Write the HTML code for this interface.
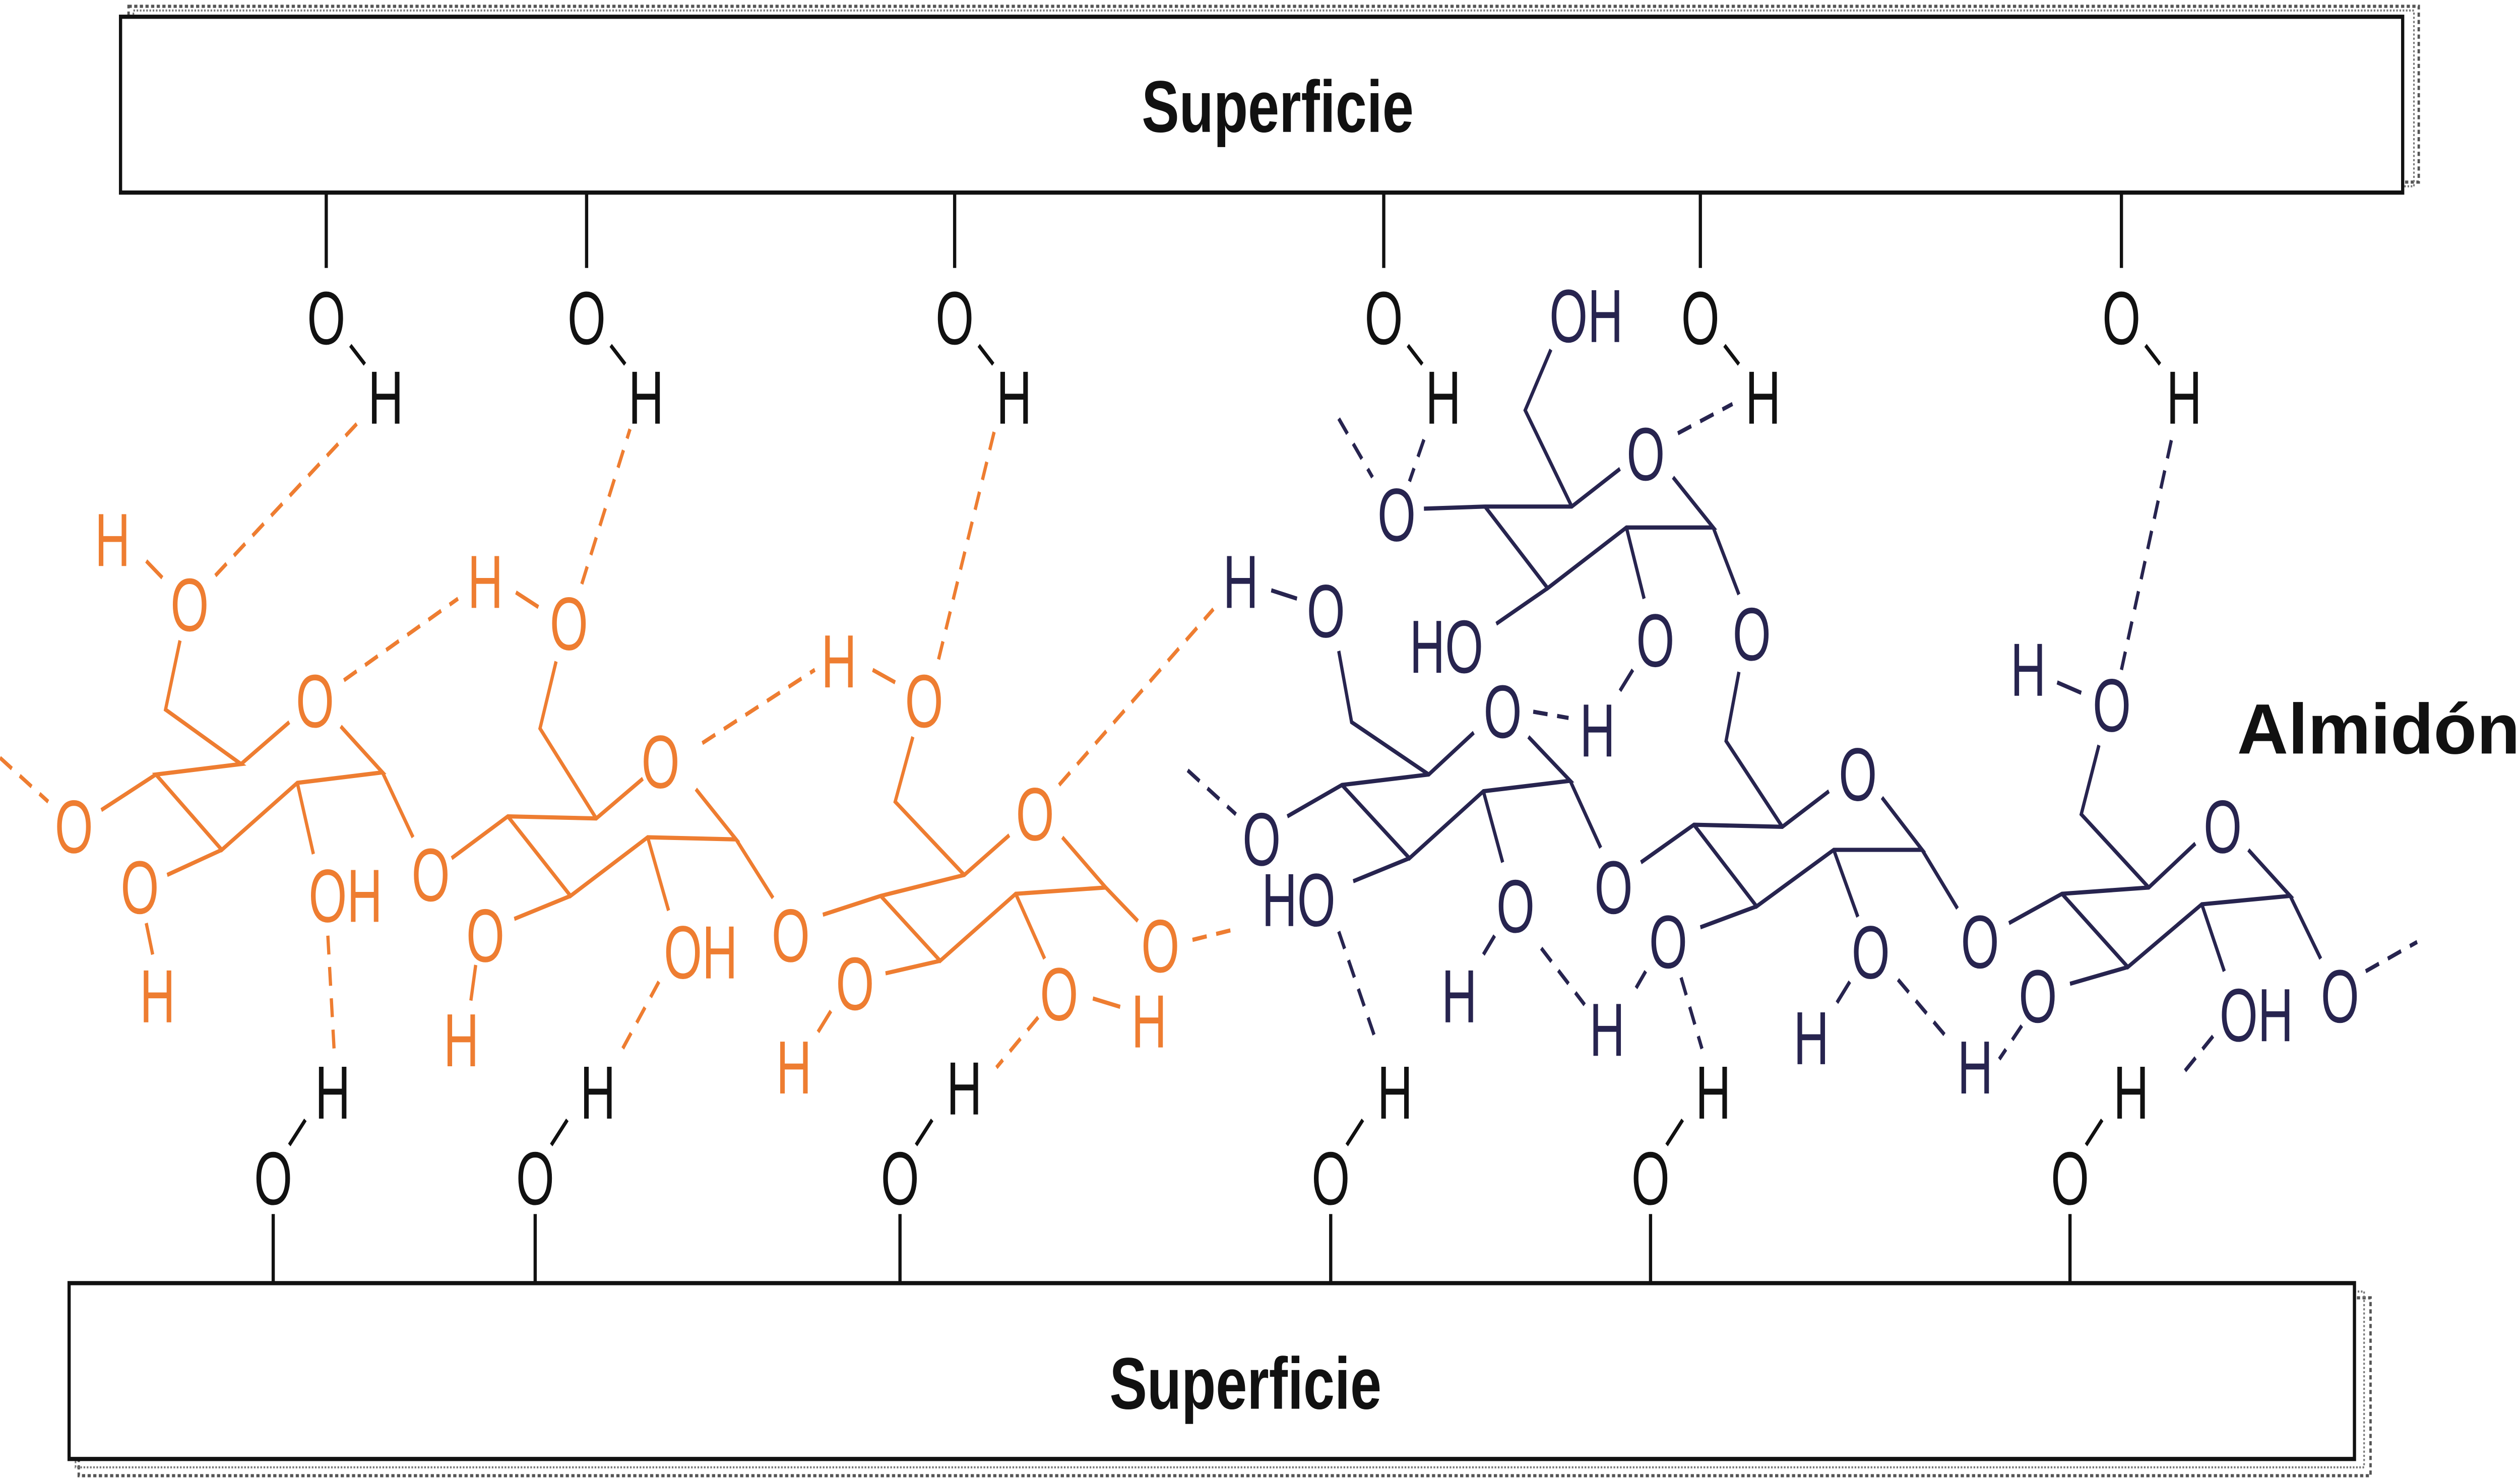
<!DOCTYPE html>
<html><head><meta charset="utf-8"><style>
html,body{margin:0;padding:0;background:#fff;width:100vw;height:100vh;overflow:hidden;}
svg{display:block;width:100vw;height:100vh;}
text{font-family:"Liberation Sans",sans-serif;}
.a{font-size:36px;text-anchor:middle;dominant-baseline:central;}
.or{fill:#ee7d31;} .nv{fill:#27244f;} .bk{fill:#111;}
</style></head><body>
<svg viewBox="0 0 1568 708" preserveAspectRatio="none" xmlns="http://www.w3.org/2000/svg">
<rect x="80" y="3" width="1425" height="84" fill="none" stroke="#555" stroke-width="1.5" stroke-dasharray="2 1.5"/>
<rect x="83" y="5" width="1419" height="84" fill="none" stroke="#777" stroke-width="1" stroke-dasharray="1 1"/>
<rect x="75" y="8" width="1420" height="84" fill="#fff" stroke="#111" stroke-width="2"/>
<rect x="49" y="620" width="1426" height="85" fill="none" stroke="#555" stroke-width="1.5" stroke-dasharray="2 1.5"/>
<rect x="47" y="617" width="1424" height="84" fill="none" stroke="#777" stroke-width="1" stroke-dasharray="1 1"/>
<rect x="43" y="613" width="1422" height="84" fill="#fff" stroke="#111" stroke-width="2"/>
<text x="795" y="63" font-size="35" font-weight="bold" text-anchor="middle" fill="#111">Superficie</text>
<text x="775" y="673" font-size="35" font-weight="bold" text-anchor="middle" fill="#111">Superficie</text>
<text x="1392" y="360" font-size="34" font-weight="bold" fill="#111" textLength="176" lengthAdjust="spacingAndGlyphs">Almidón</text>

<g stroke="#111" stroke-width="2" fill="none">
<path d="M203,92V128 M365,92V128 M594,92V128 M861,92V128 M1058,92V128 M1320,92V128"/>
<path d="M218,165L227,174 M380,165L389,174 M609,165L618,174 M876,165L885,174 M1073,165L1082,174 M1335,165L1344,174"/>
<path d="M170,580V613 M333,580V613 M560,580V613 M828,580V613 M1027,580V613 M1288,580V613"/>
<path d="M180,547L190,535 M343,547L353,535 M570,547L580,535 M838,547L848,535 M1037,547L1047,535 M1298,547L1308,535"/>
</g>
<g class="bk">
<text class="a" transform="translate(203 152) scale(.85 1)">O</text><text class="a" transform="translate(240 190) scale(.85 1)">H</text>
<text class="a" transform="translate(365 152) scale(.85 1)">O</text><text class="a" transform="translate(402 190) scale(.85 1)">H</text>
<text class="a" transform="translate(594 152) scale(.85 1)">O</text><text class="a" transform="translate(631 190) scale(.85 1)">H</text>
<text class="a" transform="translate(861 152) scale(.85 1)">O</text><text class="a" transform="translate(898 190) scale(.85 1)">H</text>
<text class="a" transform="translate(1058 152) scale(.85 1)">O</text><text class="a" transform="translate(1097 190) scale(.85 1)">H</text>
<text class="a" transform="translate(1320 152) scale(.85 1)">O</text><text class="a" transform="translate(1359 190) scale(.85 1)">H</text>
<text class="a" transform="translate(170 563) scale(.85 1)">O</text><text class="a" transform="translate(207 522) scale(.85 1)">H</text>
<text class="a" transform="translate(333 563) scale(.85 1)">O</text><text class="a" transform="translate(372 522) scale(.85 1)">H</text>
<text class="a" transform="translate(560 563) scale(.85 1)">O</text><text class="a" transform="translate(600 520) scale(.85 1)">H</text>
<text class="a" transform="translate(828 563) scale(.85 1)">O</text><text class="a" transform="translate(868 522) scale(.85 1)">H</text>
<text class="a" transform="translate(1027 563) scale(.85 1)">O</text><text class="a" transform="translate(1066 522) scale(.85 1)">H</text>
<text class="a" transform="translate(1288 563) scale(.85 1)">O</text><text class="a" transform="translate(1326 522) scale(.85 1)">H</text>
</g>

<g stroke="#ee7d31" stroke-width="2" fill="none">
<path d="M150,365L180,345 M212,347L238,369L185,374L138,406L97,370L150,365L103,339L112,306 M97,370L63,387 M138,406L104,418 M185,374L195,408 M238,369L257,400 M91,441L95,456 M91,268L101,276"/>
<path d="M281,410L316,390L371,391L400,372 M433,377L458,401L403,400L355,428L316,390 M371,391L336,348L346,316 M321,283L335,290 M355,428L320,439 M296,461L293,478 M403,400L416,435 M458,401L481,429"/>
<path d="M512,437L548,428L600,418L628,399 M661,400L688,424L632,427L585,459L548,428 M600,418L557,383L568,352 M543,320L557,326 M585,459L551,465 M517,483L509,493 M632,427L650,458 M680,477L697,481 M688,424L708,440"/>
</g>
<g stroke="#ee7d31" stroke-width="2" fill="none" stroke-dasharray="9 6">
<path d="M0,362L30,383 M742,449L768,444 M646,486L620,510 M410,469L386,503 M204,447L208,503 M134,275L225,200 M214,325L285,286 M362,279L392,205 M437,355L507,320 M584,315L619,205 M659,375L755,291"/>
</g>
<g class="or">
<text class="a" transform="translate(46 395) scale(.85 1)">O</text>
<text class="a" transform="translate(118 289) scale(.85 1)">O</text>
<text class="a" transform="translate(196 335) scale(.85 1)">O</text>
<text class="a" transform="translate(87 424) scale(.85 1)">O</text>
<text class="a" transform="translate(268 418) scale(.85 1)">O</text>
<text class="a" transform="translate(354 298) scale(.85 1)">O</text>
<text class="a" transform="translate(411 364) scale(.85 1)">O</text>
<text class="a" transform="translate(302 447) scale(.85 1)">O</text>
<text class="a" transform="translate(492 447) scale(.85 1)">O</text>
<text class="a" transform="translate(575 335) scale(.85 1)">O</text>
<text class="a" transform="translate(644 389) scale(.85 1)">O</text>
<text class="a" transform="translate(532 470) scale(.85 1)">O</text>
<text class="a" transform="translate(659 475) scale(.85 1)">O</text>
<text class="a" transform="translate(722 452) scale(.85 1)">O</text>
<text class="a" transform="translate(70 258) scale(.85 1)">H</text>
<text class="a" transform="translate(98 476) scale(.85 1)">H</text>
<text class="a" transform="translate(302 278) scale(.85 1)">H</text>
<text class="a" transform="translate(287 497) scale(.85 1)">H</text>
<text class="a" transform="translate(522 316) scale(.85 1)">H</text>
<text class="a" transform="translate(494 510) scale(.85 1)">H</text>
<text class="a" transform="translate(715 488) scale(.85 1)">H</text>
<text class="a" transform="translate(215 428) scale(.85 1)">OH</text>
<text class="a" transform="translate(436 455) scale(.85 1)">OH</text>
</g>

<g stroke="#27244f" stroke-width="2" fill="none">
<path d="M886,243L924,242L978,242L1008,224 M1041,228L1066,252L1012,252L963,281L924,242 M978,242L949,196L965,167 M963,281L931,298 M1012,252L1023,286 M1066,252L1082,284 M1082,321L1074,354L1109,395 M1016,320L1008,330"/>
<path d="M801,390L835,375L889,370L917,350 M951,352L977,373L923,378L877,410L835,375 M889,370L841,345L833,311 M791,282L807,286 M877,410L842,421 M923,378L935,412 M977,373L996,405 M930,447L923,456"/>
<path d="M1021,412L1054,394L1109,395L1138,378 M1171,381L1196,406L1141,406L1093,433L1054,394 M1093,433L1058,443 M1141,406L1156,438 M1196,406L1218,434 M1024,464L1018,472 M1151,469L1143,479"/>
<path d="M1250,441L1283,427L1337,424L1366,403 M1399,406L1425,428L1370,432L1324,462L1283,427 M1337,424L1295,389L1306,356 M1280,326L1295,331 M1324,462L1288,470 M1370,432L1384,464 M1425,428L1444,458"/>
</g>
<g stroke="#27244f" stroke-width="2" fill="none" stroke-dasharray="9 6">
<path d="M739,368L769,389 M1472,464L1504,450 M833,200L854,228 M886,210L877,230 M1044,207L1078,193 M954,340L976,343 M833,445L857,499 M959,453L986,480 M1046,467L1059,501 M1181,468L1214,498 M1320,320L1352,207 M1258,490L1244,506 M1377,495L1357,514"/>
</g>
<g class="nv">
<text class="a" transform="translate(869 246) scale(.85 1)">O</text>
<text class="a" transform="translate(1024 217) scale(.85 1)">O</text>
<text class="a" transform="translate(1030 306) scale(.85 1)">O</text>
<text class="a" transform="translate(1090 303) scale(.85 1)">O</text>
<text class="a" transform="translate(785 401) scale(.85 1)">O</text>
<text class="a" transform="translate(825 292) scale(.85 1)">O</text>
<text class="a" transform="translate(935 340) scale(.85 1)">O</text>
<text class="a" transform="translate(943 433) scale(.85 1)">O</text>
<text class="a" transform="translate(1004 424) scale(.85 1)">O</text>
<text class="a" transform="translate(1156 370) scale(.85 1)">O</text>
<text class="a" transform="translate(1038 450) scale(.85 1)">O</text>
<text class="a" transform="translate(1164 455) scale(.85 1)">O</text>
<text class="a" transform="translate(1232 450) scale(.85 1)">O</text>
<text class="a" transform="translate(1383 395) scale(.85 1)">O</text>
<text class="a" transform="translate(1268 476) scale(.85 1)">O</text>
<text class="a" transform="translate(1314 337) scale(.85 1)">O</text>
<text class="a" transform="translate(1456 476) scale(.85 1)">O</text>
<text class="a" transform="translate(987 151) scale(.85 1)">OH</text>
<text class="a" transform="translate(900 309) scale(.85 1)">HO</text>
<text class="a" transform="translate(808 430) scale(.85 1)">HO</text>
<text class="a" transform="translate(1404 485) scale(.85 1)">OH</text>
<text class="a" transform="translate(994 349) scale(.85 1)">H</text>
<text class="a" transform="translate(772 278) scale(.85 1)">H</text>
<text class="a" transform="translate(908 476) scale(.85 1)">H</text>
<text class="a" transform="translate(1000 492) scale(.85 1)">H</text>
<text class="a" transform="translate(1127 496) scale(.85 1)">H</text>
<text class="a" transform="translate(1229 510) scale(.85 1)">H</text>
<text class="a" transform="translate(1262 320) scale(.85 1)">H</text>
</g>
</svg>
</body></html>
